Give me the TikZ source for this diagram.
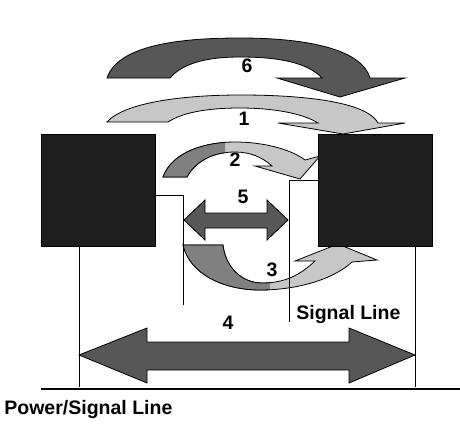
\documentclass[tikz,border=0pt]{standalone}
\usepackage{fontspec}
\setmainfont{Liberation Sans}
\usetikzlibrary{calc}

\begin{document}
\begin{tikzpicture}[x=1pt,y=-1pt,line width=0.8pt,
    font=\bfseries\fontsize{19.5pt}{21pt}\selectfont,
    box/.style={draw=black,fill=black!88,minimum width=114pt,minimum height=112pt,inner sep=0pt},
    wire/.style={line width=0.7pt},
    band/.style={draw=black,line width=0.8pt},
    flat/.style={band,fill=black!66},
    pale/.style={band,fill=black!22},
    mid/.style={band,fill=black!50}]
  \useasboundingbox (0,0) rectangle (460,426);
  \coordinate (a4l) at (79,355);
  \coordinate (a4r) at (415,355);
  \coordinate (a5l) at (184,220);
  \coordinate (a5r) at (288,220);
  \coordinate (sigL) at (183,305);
  \coordinate (sigR) at (289,322);
  \coordinate (gL) at (79,387);
  \coordinate (gR) at (415,387);
  \newcommand{\arrowtwo}{(163,177) .. controls (172,152) and (205,142) .. (235,142)
      .. controls (265,142) and (292,150) .. (305,160) -- (320,156) -- (300,179)
      -- (255,166) -- (272,166) .. controls (262,157) and (250,152) .. (235,152)
      .. controls (212,152) and (195,162) .. (187,177) -- cycle}
  \newcommand{\arrowthree}{(183,245) .. controls (190,275) and (225,290) .. (260,290)
      .. controls (300,290) and (335,278) .. (352,262) -- (377,260) -- (338,244)
      -- (295,261) -- (315,261) .. controls (300,275) and (285,283) .. (262,283)
      .. controls (240,283) and (225,265) .. (223,245) -- cycle}
  % curved arrows
  \filldraw[flat] (107,78) .. controls (118,45) and (180,38) .. (240,38)
      .. controls (310,38) and (362,50) .. (370,78) -- (405,78) -- (340,97)
      -- (277,78) -- (322,78) .. controls (308,63) and (280,57) .. (240,57)
      .. controls (205,57) and (182,64) .. (170,78) -- cycle;
  \filldraw[pale] (107,122) .. controls (125,102) and (185,95) .. (240,95)
      .. controls (315,95) and (368,104) .. (378,123) -- (405,123) -- (343,134)
      -- (278,123) -- (318,123) .. controls (302,113) and (272,108) .. (240,108)
      .. controls (205,108) and (182,113) .. (168,122) -- cycle;
  \filldraw[pale] \arrowtwo;
  \begin{scope}
    \clip (0,0) rectangle (225,426);
    \filldraw[mid] \arrowtwo;
  \end{scope}
  \filldraw[pale] \arrowthree;
  \begin{scope}
    \clip (0,0) rectangle (270,426);
    \filldraw[mid] \arrowthree;
  \end{scope}
  % units
  \node[box] (left) at (98,190) {};
  \node[box] (right) at (375,190) {};
  \draw[wire] ([yshift=-5pt]left.east) -| (sigL);
  \draw[wire] ([yshift=10pt]right.west) -| (sigR);
  \draw[wire] (gL |- left.south) -- (gL);
  \draw[wire] (gR |- right.south) -- (gR);
  \draw[line width=2.5pt] (41,389) -- (460,389);
  % straight arrows
  \filldraw[flat] (a5l) -- ++(21,-20) -- ++(0,13) -- ++(62,0) -- ++(0,-13) -- (a5r)
      -- ++(-21,20) -- ++(0,-12) -- ++(-62,0) -- ++(0,12) -- cycle;
  \filldraw[flat] (a4l) -- ++(68,-27) -- ++(0,14) -- ++(202,0) -- ++(0,-14) -- (a4r)
      -- ++(-66,28) -- ++(0,-13) -- ++(-202,0) -- ++(0,13) -- cycle;
  % labels
  \node (n6) at (247,66) {6};
  \node (n1) at (244,119) {1};
  \node (n2) at (235,160) {2};
  \node (n5) at (243,197) {5};
  \node (n3) at (272,270) {3};
  \node (n4) at (228,323) {4};
  \node[anchor=west,inner sep=0pt] (sig) at (296,314) {Signal Line};
  \node[anchor=west,inner sep=0pt] (pwr) at (4,409) {Power/Signal Line};
\end{tikzpicture}
\end{document}
